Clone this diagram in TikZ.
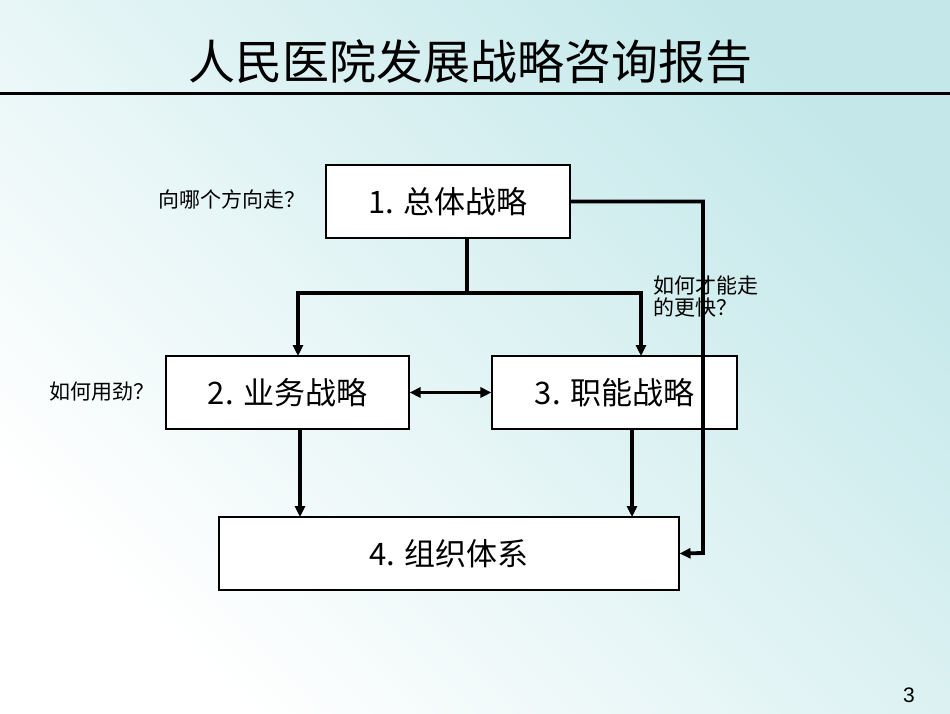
\documentclass[tikz,border=0pt]{standalone}
\usepackage{fontspec}
\setmainfont{Liberation Sans}
\newfontfamily\cjk{Noto Sans CJK SC}
\usetikzlibrary{arrows.meta}
\definecolor{slidecyan}{RGB}{196,232,234}

\begin{document}
\begin{tikzpicture}[x=1pt, y=-1pt,
    stratbox/.style={draw, line width=1.1pt, fill=white, minimum width=#1, minimum height=73pt, font=\cjk\fontsize{31}{36}\selectfont},
    flow/.style={line width=3.8pt, -{Triangle[length=11pt,width=10pt]}},
    note/.style={font=\cjk\fontsize{21}{26}\selectfont, align=left}]
        % background and title
        \shade[left color=white, right color=slidecyan, shading angle=135] (0,0) rectangle (950,713);
        \useasboundingbox (0,0) rectangle (950,713);
        \node[font=\cjk\fontsize{47}{54}\selectfont] (title) at (470,62) {人民医院发展战略咨询报告};
        \draw[line width=3pt] (0,93) -- (950,93);
        
        % the four boxes
        \node[stratbox=244pt] (1) at (448,201.5) {1. 总体战略};
        \node[stratbox=243pt] (2) at (287.5,392.5) {2. 业务战略};
        \node[stratbox=245pt] (3) at (614.5,392.5) {3. 职能战略};
        \node[stratbox=460pt] (4) at (449,553.5) {4. 组织体系};
        
        % connectors
        \coordinate (split) at (467,293);
        \draw[line width=3.8pt] (1.south -| split) -- (split);
        \draw[flow] (split) -| (298,356);
        \draw[flow] (split) -| (641,356);
        \draw[flow] (1.east) -| (703,553) -- (4.east);
        \draw[line width=3.8pt, {Triangle[length=11pt,width=10pt]}-{Triangle[length=11pt,width=10pt]}] (2.east) -- (3.west);
        \draw[flow] (300,429) -- (300,517);
        \draw[flow] (632,429) -- (632,517);
        
        % questions
        \node[note, anchor=east] (q1) at (309,199) {向哪个方向走？};
        \node[note, anchor=east] (q2) at (158,392) {如何用劲？};
        \node[note, anchor=north west] (q3) at (650,272) {如何才能走\\[-4pt]的更快？};
        \node[font=\fontsize{21}{25}\selectfont] (page) at (909,695) {3};
    \end{tikzpicture}
\end{document}
